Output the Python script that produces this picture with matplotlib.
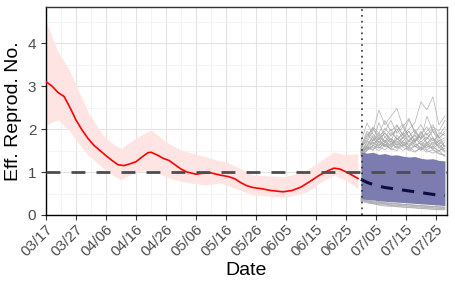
import numpy as np
import matplotlib
matplotlib.use("Agg")
import matplotlib.pyplot as plt

plt.rcParams["font.family"] = ["Liberation Sans", "DejaVu Sans"]

# ---- data (x = days since 03/17) ----
tick_days = [0, 10, 20, 30, 40, 50, 60, 70, 80, 90, 100, 110, 120, 130]
tick_labels = ["03/17", "03/27", "04/06", "04/16", "04/26", "05/06", "05/16",
               "05/26", "06/05", "06/15", "06/25", "07/05", "07/15", "07/25"]

# estimated Rt (observed period)
obs_day = [0, 2, 4, 6, 8, 10, 12, 14, 16, 18, 20, 22, 24, 26, 28, 30, 32, 34, 35,
           37, 39, 41, 43, 45, 47, 50, 52, 55, 58, 61, 63, 65, 67, 69, 72, 75, 79,
           82, 85, 88, 91, 94, 96, 98, 101, 104]
obs_r = [3.10, 3.00, 2.85, 2.76, 2.50, 2.21, 1.98, 1.78, 1.62, 1.50, 1.38, 1.27,
         1.17, 1.15, 1.19, 1.24, 1.35, 1.45, 1.46, 1.40, 1.32, 1.27, 1.17, 1.07,
         1.00, 0.95, 0.97, 0.98, 0.93, 0.89, 0.84, 0.75, 0.68, 0.64, 0.61, 0.57,
         0.54, 0.57, 0.65, 0.78, 0.92, 1.03, 1.09, 1.07, 0.97, 0.85]

ci_day = [0, 4, 8, 10, 14, 19, 23, 25, 30, 35, 40, 45, 53, 58, 60, 69, 80, 87,
          92, 96, 100, 104]
ci_hi = [4.49, 3.80, 3.35, 3.02, 2.40, 1.86, 1.62, 1.55, 1.79, 1.98, 1.70, 1.51,
         1.36, 1.26, 1.24, 0.93, 0.89, 1.05, 1.28, 1.47, 1.40, 1.43]
ci_lo = [2.09, 2.22, 1.95, 1.74, 1.40, 1.09, 0.90, 0.82, 1.01, 1.05, 0.89, 0.78,
         0.70, 0.74, 0.70, 0.47, 0.41, 0.54, 0.78, 0.93, 0.80, 0.62]

# forecast period
fc_day = [105, 107, 109, 111, 113, 115, 117, 119, 121, 123, 125, 127, 129, 131, 133]
fc_median = [0.83, 0.76, 0.71, 0.67, 0.64, 0.62, 0.60, 0.58, 0.56, 0.54, 0.52,
             0.50, 0.48, 0.46, 0.45]
fc_hi = [1.47, 1.44, 1.46, 1.41, 1.43, 1.39, 1.40, 1.37, 1.35, 1.36, 1.32, 1.30,
         1.31, 1.27, 1.26]
fc_lo = [0.38, 0.36, 0.35, 0.33, 0.32, 0.31, 0.30, 0.29, 0.28, 0.27, 0.26, 0.25,
         0.24, 0.23, 0.22]

sims = [
    [1.55, 1.80, 2.05, 1.90, 2.20, 1.95, 2.10, 1.85, 2.00, 2.15, 2.63, 2.45, 2.75, 2.10, 2.30],
    [1.45, 1.70, 1.95, 2.44, 2.10, 2.30, 2.48, 2.05, 2.25, 1.90, 2.10, 1.85, 2.05, 1.95, 2.20],
    [1.50, 1.62, 1.75, 1.90, 1.70, 1.85, 2.00, 1.78, 1.95, 1.70, 1.88, 2.05, 1.80, 1.65, 1.75],
    [1.40, 1.55, 1.68, 1.60, 1.82, 1.66, 1.75, 1.92, 1.72, 1.85, 1.62, 1.78, 1.95, 1.70, 1.60],
    [1.52, 1.90, 1.72, 2.15, 1.80, 2.00, 1.75, 1.88, 2.22, 1.95, 1.78, 1.90, 1.72, 1.85, 2.05],
    [1.35, 1.50, 1.62, 1.55, 1.70, 1.58, 1.66, 1.60, 1.72, 1.65, 1.58, 1.70, 1.62, 1.75, 1.58],
    [1.48, 1.60, 1.85, 1.70, 1.62, 1.78, 1.68, 1.82, 1.60, 1.74, 1.95, 1.68, 1.80, 1.55, 1.70],
    [1.42, 1.58, 1.50, 1.72, 1.64, 1.55, 1.80, 1.62, 1.68, 1.58, 1.72, 1.60, 1.55, 1.66, 1.50],
    [1.55, 1.75, 2.00, 1.85, 1.95, 2.20, 1.90, 2.05, 1.82, 1.98, 1.75, 2.30, 1.95, 1.80, 1.90],
    [1.38, 1.52, 1.60, 1.78, 1.58, 1.66, 1.56, 1.70, 1.54, 1.62, 1.68, 1.52, 1.60, 1.48, 1.62],
    [1.46, 1.58, 1.52, 1.66, 1.60, 1.72, 1.55, 1.64, 1.58, 1.70, 1.52, 1.62, 1.56, 1.50, 1.55],
    [1.52, 1.66, 1.78, 1.62, 1.74, 1.60, 1.86, 1.70, 1.62, 1.78, 1.64, 1.56, 1.70, 1.62, 1.48],
    [1.60, 1.95, 1.80, 1.68, 1.92, 1.75, 1.62, 1.80, 1.95, 1.72, 1.85, 1.66, 1.58, 1.72, 1.80],
    [1.44, 1.56, 1.70, 1.58, 1.52, 1.64, 1.72, 1.58, 1.50, 1.60, 1.55, 1.66, 1.52, 1.44, 1.40],
    [1.70, 2.14, 1.88, 1.75, 2.02, 1.85, 1.95, 2.12, 1.80, 1.70, 1.92, 1.76, 2.00, 1.82, 1.60],
    [1.50, 1.60, 1.72, 1.85, 1.68, 1.78, 1.62, 1.72, 1.85, 1.60, 1.50, 1.64, 1.78, 1.58, 1.46],
    [1.48, 1.54, 1.62, 1.56, 1.66, 1.52, 1.60, 1.50, 1.58, 1.48, 1.56, 1.46, 1.52, 1.42, 1.38],
    [1.58, 1.72, 1.64, 1.80, 1.72, 1.92, 1.78, 1.66, 1.74, 1.86, 1.70, 1.82, 1.64, 1.92, 1.85],
    [1.40, 1.50, 1.58, 1.50, 1.62, 1.54, 1.50, 1.64, 1.52, 1.46, 1.58, 1.50, 1.44, 1.50, 1.36],
    [1.62, 1.84, 2.02, 1.78, 1.90, 1.70, 2.08, 1.86, 1.70, 1.90, 1.78, 1.95, 2.10, 1.78, 1.95],
    [0.40, 0.33, 0.30, 0.29, 0.27, 0.26, 0.25, 0.24, 0.23, 0.22, 0.21, 0.20, 0.19, 0.18, 0.17],
    [0.36, 0.31, 0.28, 0.26, 0.25, 0.23, 0.22, 0.21, 0.20, 0.19, 0.18, 0.17, 0.16, 0.15, 0.14],
    [0.42, 0.36, 0.33, 0.31, 0.29, 0.28, 0.27, 0.25, 0.24, 0.23, 0.22, 0.21, 0.20, 0.19, 0.18],
    [0.34, 0.30, 0.27, 0.24, 0.23, 0.22, 0.20, 0.19, 0.18, 0.17, 0.16, 0.15, 0.14, 0.13, 0.13],
    [0.38, 0.34, 0.31, 0.30, 0.28, 0.27, 0.26, 0.25, 0.24, 0.23, 0.22, 0.21, 0.20, 0.19, 0.19],
    [0.32, 0.28, 0.26, 0.23, 0.21, 0.20, 0.19, 0.18, 0.17, 0.16, 0.15, 0.14, 0.13, 0.12, 0.12],
    [0.35, 0.32, 0.29, 0.27, 0.26, 0.24, 0.23, 0.22, 0.21, 0.20, 0.19, 0.18, 0.17, 0.16, 0.15],
]

forecast_start = 105.2

fig = plt.figure(figsize=(4.55, 2.91), dpi=100)
ax = fig.add_axes([46 / 455, 76 / 291, 401 / 455, 208 / 291])

# pink CI ribbon + red estimate
ax.fill_between(ci_day, ci_lo, ci_hi, color="#ffe4e4", lw=0, zorder=2)
ax.plot(obs_day, obs_r, color="red", lw=1.2, zorder=4)

# simulated trajectories, then the central band on top
for s in sims:
    ax.plot(fc_day, s, color="#a3a3a3", lw=0.5, alpha=0.85, zorder=2)
ax.fill_between(fc_day, fc_lo, fc_hi, color="#7c7cb0", lw=0, zorder=3)
ax.plot(fc_day, fc_median, color="#0d0d45", lw=2.2, ls=(0, (4, 3)), zorder=5)

ax.axhline(1, color="#4d4d4d", lw=2.0, ls=(0, (5, 4)), zorder=4)
ax.axvline(forecast_start, color="#333333", lw=1.2, ls=(0, (1, 2.5)), zorder=6)

ax.set_xlim(0, 133.7)
ax.set_ylim(0, 4.84)
ax.set_xticks(tick_days)
ax.set_xticklabels(tick_labels, rotation=45, ha="right", rotation_mode="anchor")
ax.set_xticks(np.arange(5, 134, 10), minor=True)
ax.set_yticks([0, 1, 2, 3, 4])
ax.set_yticks([0.5, 1.5, 2.5, 3.5, 4.5], minor=True)

ax.grid(which="major", color="#e3e3e3", lw=0.8, zorder=0)
ax.grid(which="minor", color="#f3f3f3", lw=0.6, zorder=0)
ax.set_axisbelow(True)

ax.tick_params(axis="both", which="major", labelsize=11, labelcolor="#4d4d4d",
               color="#333333", length=3.5, width=0.8)
ax.tick_params(axis="both", which="minor", length=0)
ax.tick_params(axis="x", pad=2)

for side in ["left", "bottom"]:
    ax.spines[side].set_color("black")
    ax.spines[side].set_linewidth(1.0)
for side in ["top", "right"]:
    ax.spines[side].set_color("#333333")
    ax.spines[side].set_linewidth(1.0)

ax.set_xlabel("Date", fontsize=14, labelpad=2)
ax.set_ylabel("Eff. Reprod. No.", fontsize=14, labelpad=4)

fig.savefig("out.png", dpi=100)
